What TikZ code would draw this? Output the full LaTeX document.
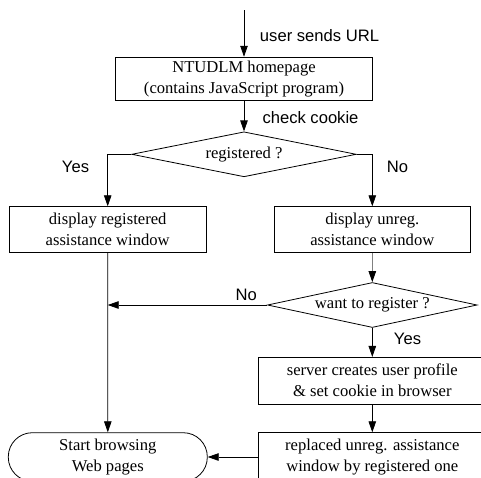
\documentclass[tikz,border=0pt]{standalone}
\usepackage{fontspec}
\setmainfont{Liberation Serif}
\newfontfamily\lsans{Liberation Sans}
\usetikzlibrary{arrows.meta,shapes.geometric}
\begin{document}
\begin{tikzpicture}[x=1pt,y=-1pt,
  every node/.style={inner sep=0pt},
  ln/.style={line width=0.8pt},
  arr/.style={ln,-{Triangle[length=11pt,width=7.5pt,color=black]}},
  boxx/.style={draw,ln,rectangle,align=center,font=\fontsize{16.6}{21}\selectfont},
  dia/.style={draw,ln,diamond,shape aspect=5,font=\fontsize{16.6}{21}\selectfont},
  lab/.style={font=\lsans\fontsize{16.6}{20}\selectfont}]
\useasboundingbox (0,0) rectangle (481,477);
\clip (0,0) rectangle (481,477);
\coordinate (s) at (244,10);
\node[boxx,minimum width=256.3pt,minimum height=43.7pt] (b1) at (244,79) {NTUDLM homepage\\(contains JavaScript program)};
\node[dia,minimum width=224.7pt,minimum height=45pt] (d1) at (244,154.3) {registered ?};
\node[boxx,minimum width=196.7pt,minimum height=46pt] (bl) at (107.7,229.7) {display registered\\assistance window};
\node[boxx,minimum width=196.7pt,minimum height=46pt] (br) at (372.3,229.7) {display unreg.\\assistance window};
\node[dia,minimum width=209.6pt,minimum height=45pt] (d2) at (372.3,305) {want to register ?};
\coordinate (j) at (107.7,305);
\node[boxx,minimum width=228pt,minimum height=46.7pt] (b3) at (372.3,380.7) {server creates user profile\\\& set cookie in browser};
\node[boxx,minimum width=228pt,minimum height=48.6pt] (b4) at (372.3,457) {replaced unreg. assistance\\window by registered one};
\node[boxx,rounded corners=24pt,minimum width=199pt,minimum height=48.6pt] (t) at (107.8,457) {Start browsing\\Web pages};
\node[lab] (l1) at (319.5,36) {user sends URL};
\node[lab] (l2) at (310.5,117.7) {check cookie};
\node[lab] (l3) at (75.5,166.7) {Yes};
\node[lab] (l4) at (397.5,166.7) {No};
\node[lab] (l5) at (246.3,295) {No};
\node[lab] (l6) at (407.5,339.3) {Yes};
\draw[arr] (s) -- (b1.north);
\draw[arr] (b1.south) -- (d1.north);
\draw[arr] (d1.west) -| (bl.north);
\draw[arr] (d1.east) -| (br.north);
\draw[arr] (bl.south) -- (t.north);
\draw[arr,draw=gray] (br.south) -- (d2.north);
\draw[arr] (d2.west) -- (j);
\draw[arr] (d2.south) -- (b3.north);
\draw[arr] (b3.south) -- (b4.north);
\draw[arr] (b4.west) -- (t.east);
\end{tikzpicture}
\end{document}
